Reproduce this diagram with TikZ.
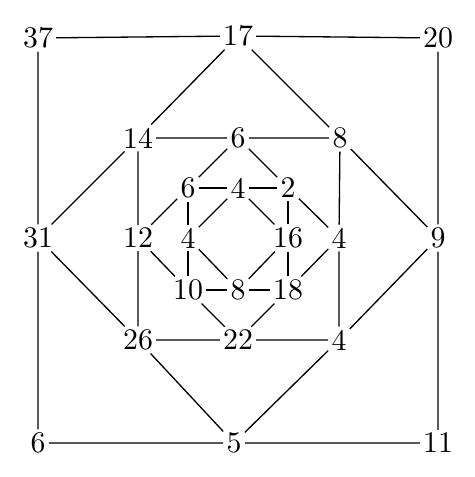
\documentclass[tikz,border=0pt]{standalone}
\usepackage{fontspec}
\newfontfamily\numfont{lmroman10-regular.otf}
\begin{document}
\begin{tikzpicture}
[
    every node/.style={inner sep=1.5pt, font=\numfont\fontsize{17}{20}\selectfont},
    every path/.style={line width=0.75pt},
]
\useasboundingbox (-0.76,-4.78) rectangle (8.72,4.76);
% outer square
\node (a37) at (0,4) {37};
\node (a17) at (4,4.04) {17};
\node (a20) at (8,4) {20};
\node (a31) at (0,0) {31};
\node (a9) at (8,0) {9};
\node (a6bl) at (0,-4.1) {6};
\node (a5) at (3.92,-4.1) {5};
\node (a11) at (8,-4.1) {11};
% middle ring
\node (a14) at (2,2) {14};
\node (a6t) at (4,2) {6};
\node (a8) at (6.04,2) {8};
\node (a12) at (2,0) {12};
\node (a4r) at (6.02,0) {4};
\node (a26) at (2,-2.04) {26};
\node (a22) at (4,-2.04) {22};
\node (a4b) at (6.02,-2.04) {4};
% inner ring
\node (a6i) at (3,1) {6};
\node (a4t) at (4,1) {4};
\node (a2) at (5,1) {2};
\node (a4l) at (3,0) {4};
\node (a16) at (5,0) {16};
\node (a10) at (3,-1.04) {10};
\node (a8i) at (4,-1.04) {8};
\node (a18) at (5,-1.04) {18};

\draw (a37) -- (a17) -- (a20) -- (a9) -- (a11) -- (a5) -- (a6bl) -- (a31) -- (a37);
\draw (a17) -- (a14) -- (a31) -- (a26) -- (a5) -- (a4b) -- (a9) -- (a8) -- (a17);
\draw (a14) -- (a6t) -- (a8) -- (a4r) -- (a4b) -- (a22) -- (a26) -- (a12) -- (a14);
\draw (a6t) -- (a6i) -- (a12) -- (a10) -- (a22) -- (a18) -- (a4r) -- (a2) -- (a6t);
\draw (a6i) -- (a4t) -- (a2) -- (a16) -- (a18) -- (a8i) -- (a10) -- (a4l) -- (a6i);
\draw (a4t) -- (a4l) -- (a8i) -- (a16) -- (a4t);
\end{tikzpicture}
\end{document}
